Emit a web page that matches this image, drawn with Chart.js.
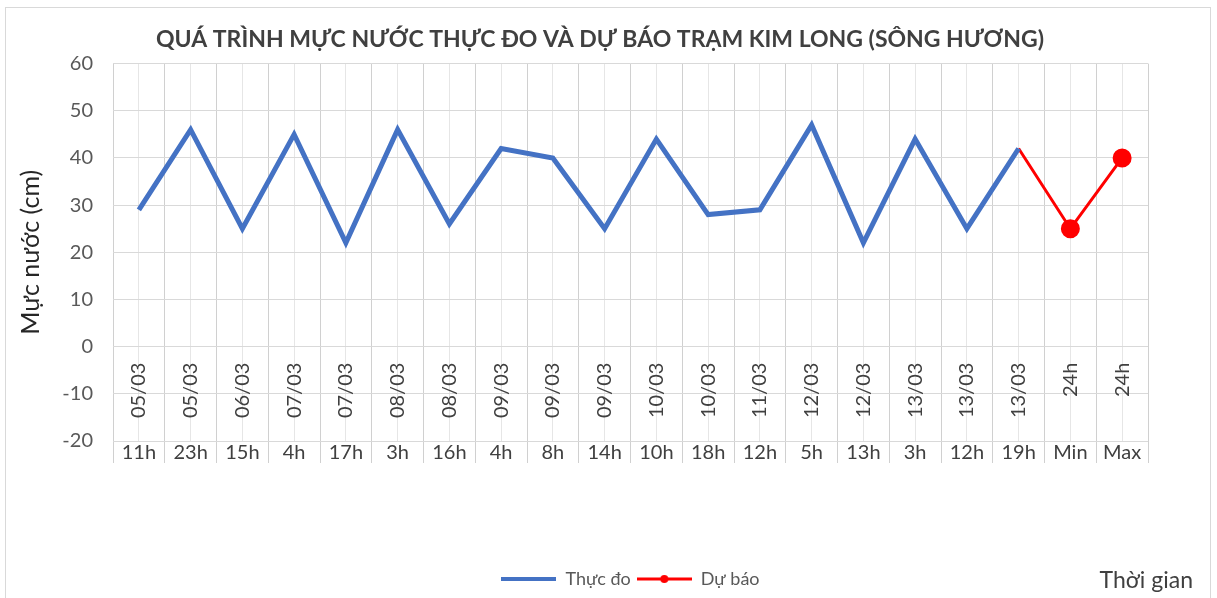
<!DOCTYPE html>
<html>
<head>
<meta charset="utf-8">
<script src="https://cdn.jsdelivr.net/npm/chart.js@4"></script>
<style>
	body { margin: 0; background: #fff; }
	#wrap { position: relative; width: 1217px; height: 598px; }
	#frame { position: absolute; left: 5px; top: 7px; width: 1204px; height: 600px; border: 1px solid #d9d9d9; pointer-events: none; }
</style>
</head>
<body>
<div id="wrap">
	<canvas id="myChart" width="1217" height="598"></canvas>
	<div id="frame"></div>
</div>
<script>
// categories (two-level axis: date on top, hour below)
const dateLabels = ['05/03', '05/03', '06/03', '07/03', '07/03', '08/03', '08/03', '09/03', '09/03', '09/03',
	'10/03', '10/03', '11/03', '12/03', '12/03', '13/03', '13/03', '13/03', '24h', '24h'];
const hourLabels = ['11h', '23h', '15h', '4h', '17h', '3h', '16h', '4h', '8h', '14h',
	'10h', '18h', '12h', '5h', '13h', '3h', '12h', '19h', 'Min', 'Max'];

// water level (cm)
const thucDo = [29, 46, 25, 45, 22, 46, 26, 42, 40, 25, 44, 28, 29, 47, 22, 44, 25, 42, null, null];
const duBao = [null, null, null, null, null, null, null, null, null, null,
	null, null, null, null, null, null, null, 42, 25, 40];

const yTicks = { min: -20, max: 60, step: 10 };

const FONT = 'Lato';

// legend sample: line with a dot in the middle (like excel's marker legend)
function legendSample(color, lineW, dotR) {
	const c = document.createElement('canvas');
	c.width = 55;
	c.height = 12;
	const g = c.getContext('2d');
	g.strokeStyle = color;
	g.lineWidth = lineW;
	g.beginPath();
	g.moveTo(0, 6);
	g.lineTo(55, 6);
	g.stroke();
	if (dotR) {
		g.fillStyle = color;
		g.beginPath();
		g.arc(27.5, 6, dotR, 0, Math.PI * 2);
		g.fill();
	}
	return c;
}

// "Thời gian" caption bottom right
const captionPlugin = {
	id: 'caption',
	afterDraw(chart) {
		const ctx = chart.ctx;
		ctx.save();
		ctx.font = '23px ' + FONT;
		ctx.fillStyle = '#404040';
		ctx.textAlign = 'right';
		ctx.textBaseline = 'middle';
		ctx.fillText('Thời gian', 1193, 581);
		ctx.restore();
	}
};

const ctx = document.getElementById('myChart').getContext('2d');
const myChart = new Chart(ctx, {
	type: 'line',
	data: {
		labels: hourLabels,
		datasets: [{
			label: 'Thực đo',
			data: thucDo,
			borderColor: '#4472C4',
			backgroundColor: '#4472C4',
			borderWidth: 5,
			pointRadius: 0,
			tension: 0,
			spanGaps: false
		}, {
			label: 'Dự báo',
			data: duBao,
			borderColor: '#FF0000',
			backgroundColor: '#FF0000',
			borderWidth: 3,
			pointRadius: c => (c.dataIndex >= 18 ? 8 : 0),
			pointHoverRadius: 8,
			tension: 0
		}]
	},
	options: {
		responsive: false,
		animation: false,
		layout: {
			padding: { left: 10, right: 27, top: 0, bottom: 0 }
		},
		plugins: {
			title: {
				display: true,
				text: 'QUÁ TRÌNH MỰC NƯỚC THỰC ĐO VÀ DỰ BÁO TRẠM KIM LONG (SÔNG HƯƠNG)',
				color: '#404040',
				font: { family: FONT, size: 23, weight: 'bold' },
				padding: { top: 26, bottom: 10 }
			},
			legend: {
				position: 'bottom',
				fullSize: false,
				labels: {
					usePointStyle: true,
					pointStyleWidth: 55,
					color: '#595959',
					padding: 6,
					font: { family: FONT, size: 18 },
					generateLabels(chart) {
						return chart.data.datasets.map((ds, i) => ({
							text: ds.label,
							fillStyle: ds.borderColor,
							strokeStyle: ds.borderColor,
							lineWidth: 0,
							pointStyle: legendSample(ds.borderColor, i === 0 ? 4 : 3, i === 0 ? 0 : 4),
							fontColor: '#595959',
							datasetIndex: i
						}));
					}
				}
			},
			tooltip: { enabled: false }
		},
		scales: {
			x: {
				type: 'category',
				position: 'bottom',
				offset: true,
				grid: {
					offset: true,
					color: '#d0d0d0',
					drawTicks: true,
					tickLength: 22
				},
				border: { display: false },
				ticks: {
					autoSkip: false,
					maxRotation: 0,
					padding: -22,
					color: '#404040',
					font: { family: FONT, size: 20 }
				},
				afterFit(scale) {
					scale.height = 123;
				}
			},
			xDate: {
				type: 'category',
				labels: dateLabels,
				position: { y: 0 },
				offset: true,
				grid: {
					offset: false,
					color: '#e6e6e6',
					drawTicks: false
				},
				border: { display: false },
				ticks: {
					autoSkip: false,
					minRotation: 90,
					maxRotation: 90,
					padding: 16,
					color: '#404040',
					font: { family: FONT, size: 20 }
				}
			},
			y: {
				min: yTicks.min,
				max: yTicks.max,
				grid: { color: '#d9d9d9', drawTicks: false },
				border: { display: false },
				ticks: {
					stepSize: yTicks.step,
					padding: 20,
					color: '#595959',
					font: { family: FONT, size: 20 }
				},
				title: {
					display: true,
					text: 'Mực nước (cm)',
					color: '#262626',
					font: { family: FONT, size: 25 },
					padding: { top: 6, bottom: 0 }
				},
				afterFit(scale) {
					scale.width = 103;
				}
			},
			// empty right box so the title centres like the original
			yRight: {
				type: 'linear',
				position: 'right',
				display: true,
				grid: { display: false, drawTicks: false },
				border: { display: false },
				ticks: { display: false },
				afterFit(scale) {
					scale.width = 42;
				}
			}
		}
	},
	plugins: [captionPlugin]
});
</script>
</body>
</html>
